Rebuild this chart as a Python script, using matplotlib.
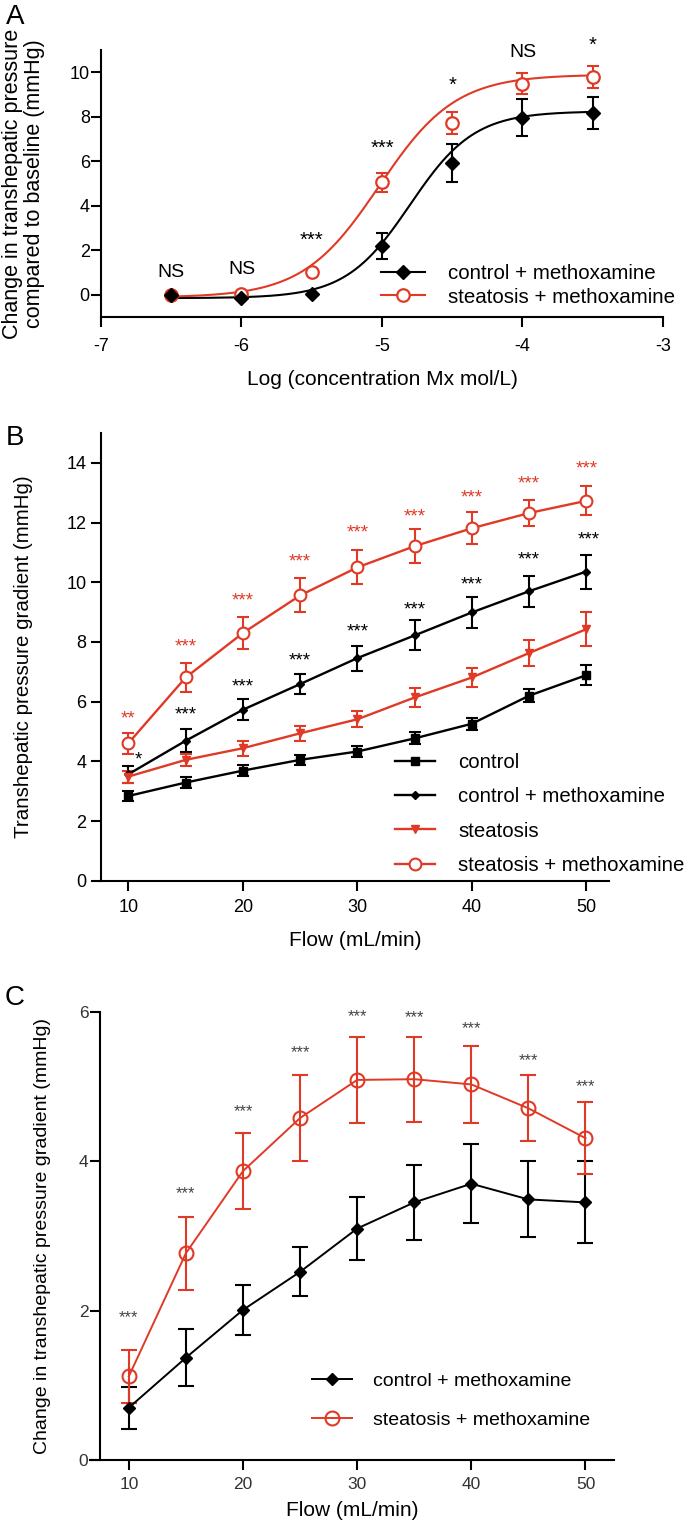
import numpy as np
import matplotlib
matplotlib.use("Agg")
from matplotlib import pyplot as plt

plt.rcParams["font.family"] = ["Liberation Sans", "DejaVu Sans"]
plt.rcParams["axes.unicode_minus"] = False

red = "#e03a26"

# ---- panel A: concentration response
logc = [-6.5, -6.0, -5.5, -5.0, -4.5, -4.0, -3.5]
ctrl_A = [0.0, -0.15, 0.02, 2.21, 5.93, 7.96, 8.17]
ctrl_A_err = [0.0, 0.0, 0.0, 0.58, 0.87, 0.83, 0.71]
ste_A = [-0.02, 0.05, 1.04, 5.05, 7.73, 9.49, 9.80]
ste_A_err = [0.0, 0.0, 0.0, 0.41, 0.49, 0.47, 0.49]
# fitted curves (bottom, top, logEC50, hill slope)
ctrl_fit = [-0.15, 8.25, -4.80, 1.9]
ste_fit = [-0.12, 9.90, -5.02, 1.6]
sig_A = ["NS", "NS", "***", "***", "*", "NS", "*"]
sig_A_y = [1.0, 1.15, 2.45, 6.6, 9.4, 10.9, 11.2]

# ---- panel B: flow vs gradient
flow = [10, 15, 20, 25, 30, 35, 40, 45, 50]
ctrl_B = [2.84, 3.29, 3.69, 4.05, 4.33, 4.77, 5.26, 6.20, 6.89]
ctrl_B_err = [0.18, 0.17, 0.18, 0.17, 0.18, 0.20, 0.20, 0.22, 0.33]
ctrlmx_B = [3.57, 4.69, 5.73, 6.59, 7.46, 8.22, 8.99, 9.70, 10.36]
ctrlmx_B_err = [0.29, 0.39, 0.35, 0.35, 0.42, 0.50, 0.51, 0.52, 0.57]
ste_B = [3.49, 4.05, 4.44, 4.94, 5.41, 6.14, 6.81, 7.63, 8.43]
ste_B_err = [0.20, 0.20, 0.25, 0.26, 0.27, 0.32, 0.33, 0.42, 0.58]
stemx_B = [4.61, 6.81, 8.30, 9.56, 10.50, 11.21, 11.81, 12.32, 12.73]
stemx_B_err = [0.35, 0.49, 0.53, 0.57, 0.57, 0.56, 0.53, 0.45, 0.49]
sig_B_red = ["**", "***", "***", "***", "***", "***", "***", "***", "***"]
sig_B_red_y = [5.41, 7.83, 9.37, 10.68, 11.66, 12.19, 12.84, 13.30, 13.81]
sig_B_blk = ["*", "***", "***", "***", "***", "***", "***", "***", "***"]
sig_B_blk_x = [10.9, 15, 20, 25, 30, 35, 40, 45, 50.2]
sig_B_blk_y = [4.05, 5.55, 6.49, 7.38, 8.33, 9.08, 9.90, 10.76, 11.41]

# ---- panel C: change in gradient
ctrl_C = [0.70, 1.37, 2.01, 2.52, 3.10, 3.45, 3.70, 3.49, 3.45]
ctrl_C_err = [0.28, 0.38, 0.34, 0.33, 0.42, 0.50, 0.53, 0.51, 0.55]
ste_C = [1.12, 2.77, 3.87, 4.58, 5.09, 5.10, 5.03, 4.71, 4.31]
ste_C_err = [0.35, 0.49, 0.51, 0.57, 0.57, 0.57, 0.51, 0.44, 0.48]
sig_C_y = [1.91, 3.57, 4.67, 5.45, 5.94, 5.92, 5.78, 5.35, 5.0]


def hill(x, p):
    b, t, ec, h = p
    return b + (t - b) / (1 + 10 ** ((ec - x) * h))


def style(ax, xpad, ypad, size=13):
    for s in ["top", "right"]:
        ax.spines[s].set_visible(False)
    for s in ["left", "bottom"]:
        ax.spines[s].set_linewidth(1.5)
    ax.tick_params(direction="out", length=7, width=1.5, labelsize=size)
    ax.tick_params(axis="x", pad=xpad)
    ax.tick_params(axis="y", pad=ypad)


fig = plt.figure(figsize=(6.85, 15.28), dpi=100)

# ================= A
ax = fig.add_axes([0.1474, 0.7925, 0.8204, 0.1747])
style(ax, 8, 1)
xs = np.linspace(-6.5, -3.5, 200)
ax.plot(xs, hill(xs, ctrl_fit), color="black", lw=1.5, zorder=2)
ax.plot(xs, hill(xs, ste_fit), color=red, lw=1.5, zorder=2)
ax.errorbar(logc, ctrl_A, yerr=ctrl_A_err, fmt="none", ecolor="black", elinewidth=1.5, capsize=4.5, capthick=1.5)
ax.errorbar(logc, ste_A, yerr=ste_A_err, fmt="none", ecolor=red, elinewidth=1.5, capsize=4.5, capthick=1.5)
ax.plot(logc, ste_A, "o", ms=9, mfc="white", mec=red, mew=1.6, zorder=3)
ax.plot(logc, ctrl_A, "D", ms=7, color="black", zorder=4)
for x, s, y in zip(logc, sig_A, sig_A_y):
    ax.text(x, y, s, ha="center", va="center", fontsize=14 if s == "NS" else 14.5, clip_on=False)
ax.set_xlim(-7, -3)
ax.set_ylim(-1, 11)
ax.set_xticks([-7, -6, -5, -4, -3])
ax.set_yticks([0, 2, 4, 6, 8, 10])
ax.set_xlabel("Log (concentration Mx mol/L)", fontsize=15)
ax.xaxis.set_label_coords(0.5, -0.20)
ax.set_ylabel("Change in transhepatic pressure\ncompared to baseline (mmHg)", fontsize=15.5, linespacing=1.05)
ax.yaxis.set_label_coords(-0.10, 0.5)
h1, = ax.plot([], [], "-D", color="black", ms=7, lw=1.5)
h2, = ax.plot([], [], "-o", color=red, ms=9, mfc="white", mew=1.6, lw=1.5)
ax.legend([h1, h2], ["control + methoxamine", "steatosis + methoxamine"], loc="lower left",
          bbox_to_anchor=(0.498, 0.039), frameon=False, fontsize=14.8, handlelength=2.14,
          handletextpad=1.12, labelspacing=0.24, borderaxespad=0, borderpad=0)
fig.text(0.022, 1 - 17 / 1528, "A", fontsize=20, va="center", ha="center")

# ================= B
ax = fig.add_axes([0.1474, 0.4236, 0.742, 0.2930])
style(ax, 6, 3.5)
kw = dict(capsize=4, capthick=1.5, elinewidth=1.5, lw=1.7)
ax.errorbar(flow, ctrl_B, yerr=ctrl_B_err, fmt="-s", color="black", ms=6, label="control", **kw)
ax.errorbar(flow, ctrlmx_B, yerr=ctrlmx_B_err, fmt="-D", color="black", ms=4, label="control + methoxamine", **kw)
ax.errorbar(flow, ste_B, yerr=ste_B_err, fmt="-v", color=red, ms=6, label="steatosis", **kw)
ax.errorbar(flow, stemx_B, yerr=stemx_B_err, fmt="-o", color=red, ms=8.5, mfc="white", mew=1.5, label="steatosis + methoxamine", **kw)
for x, s, y in zip(flow, sig_B_red, sig_B_red_y):
    ax.text(x, y, s, ha="center", va="center", fontsize=13.5, color=red)
for x, s, y in zip(sig_B_blk_x, sig_B_blk, sig_B_blk_y):
    ax.text(x, y, s, ha="center", va="center", fontsize=13.5, color="black")
ax.set_xlim(7.6, 52)
ax.set_ylim(0, 15)
ax.set_xticks([10, 20, 30, 40, 50])
ax.set_yticks([0, 2, 4, 6, 8, 10, 12, 14])
ax.set_xlabel("Flow (mL/min)", fontsize=15)
ax.xaxis.set_label_coords(0.5, -0.112)
ax.set_ylabel("Transhepatic pressure gradient (mmHg)", fontsize=14.8)
ax.yaxis.set_label_coords(-0.134, 0.5)
hs, ls = ax.get_legend_handles_labels()
ax.legend([h[0] for h in hs], ls, loc="lower left", bbox_to_anchor=(0.579, 0.013), frameon=False,
          fontsize=14.7, handlelength=1.96, handletextpad=1.13, labelspacing=0.75,
          borderaxespad=0, borderpad=0)
fig.text(0.022, 1 - 438 / 1528, "B", fontsize=20, va="center", ha="center")

# ================= C
ax = fig.add_axes([0.1314, 0.0445, 0.765, 0.2932])
style(ax, 5.5, 1.5, size=12.5)
ax.spines["left"].set_position(("data", 7.5))
ax.tick_params(labelcolor="#333333")
kw = dict(capsize=6, capthick=1.5, elinewidth=1.5, lw=1.4)
ax.errorbar(flow, ctrl_C, yerr=ctrl_C_err, fmt="-D", color="black", ms=6.5, label="control + methoxamine", **kw)
ax.errorbar(flow, ste_C, yerr=ste_C_err, fmt="-o", color=red, ms=10, mfc="none", mew=1.5, label="steatosis + methoxamine", **kw)
for x, y in zip(flow, sig_C_y):
    ax.text(x, y, "***", ha="center", va="center", fontsize=12, color="#444444")
ax.set_xlim(6.6, 52.5)
ax.set_ylim(0, 6)
ax.set_xticks([10, 20, 30, 40, 50])
ax.set_yticks([0, 2, 4, 6])
ax.set_xlabel("Flow (mL/min)", fontsize=15)
ax.xaxis.set_label_coords(0.5, -0.0915)
ax.set_ylabel("Change in transhepatic pressure gradient (mmHg)", fontsize=14)
ax.yaxis.set_label_coords(-0.075, 0.5)
hs, ls = ax.get_legend_handles_labels()
ax.legend([h[0] for h in hs], ls, loc="lower left", bbox_to_anchor=(0.424, 0.069), frameon=False,
          fontsize=14, handlelength=2.06, handletextpad=1.08, labelspacing=1.1,
          borderaxespad=0, borderpad=0)
fig.text(0.022, 1 - 998 / 1528, "C", fontsize=20, va="center", ha="center")

fig.savefig("out.png", dpi=100)
